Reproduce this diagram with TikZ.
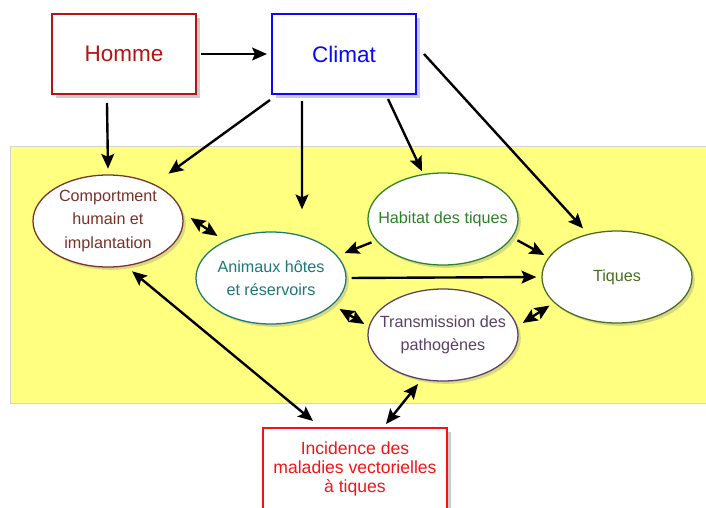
\documentclass[tikz,border=0pt]{standalone}
\usepackage{fontspec}
\setmainfont{Liberation Sans}
\usetikzlibrary{arrows.meta, shapes.geometric, shadows}

\definecolor{fond}{RGB}{255,255,128}
\definecolor{rougeH}{RGB}{180,20,20}
\definecolor{bleuC}{RGB}{10,10,245}
\definecolor{brunC}{RGB}{120,50,40}
\definecolor{sarcelle}{RGB}{30,120,120}
\definecolor{vertH}{RGB}{45,130,40}
\definecolor{vertT}{RGB}{70,110,30}
\definecolor{violetP}{RGB}{90,65,100}
\definecolor{rougeI}{RGB}{245,20,20}

\begin{document}
\begin{tikzpicture}[
    x=0.025cm, y=-0.025cm,
    >={Stealth[length=3.7mm, width=3.2mm, inset=0.7mm]},
    boite/.style={rectangle, draw, line width=1.4pt, fill=white, minimum width=3.6cm, minimum height=2cm, font=\fontsize{16}{18}\selectfont, drop shadow={shadow xshift=3pt, shadow yshift=-3pt, opacity=0.4}},
    bulle/.style={ellipse, draw, line width=0.9pt, fill=white, minimum width=3.75cm, minimum height=2.3cm, inner xsep=-0.6cm, inner ysep=0pt, align=center, font=\fontsize{11.5}{16.5}\selectfont, drop shadow={shadow xshift=2pt, shadow yshift=-2pt, opacity=0.3}},
    fleche/.style={->, line width=1.7pt},
    deuxsens/.style={<->, line width=1.7pt}
]
\useasboundingbox (0,0) rectangle (706,508);

% fond jaune
\fill[fond, draw=gray!35] (10,146) rectangle (712,403);

\node[boite, draw=rougeH, text=rougeH] (homme) at (124,54) {Homme};
\node[boite, draw=bleuC, text=bleuC] (climat) at (344,54) {Climat};

\node[bulle, draw=brunC, text=brunC] (comport) at (108,221) {Comportment\\humain et\\implantation};
\node[bulle, draw=sarcelle, text=sarcelle] (animaux) at (271,278) {Animaux hôtes\\et réservoirs};
\node[bulle, draw=vertH, text=vertH] (habitat) at (443,219) {Habitat des tiques};
\node[bulle, draw=vertT, text=vertT] (tiques) at (617,277) {Tiques};
\node[bulle, draw=violetP, text=violetP] (transm) at (443,335) {Transmission des\\pathogènes};

\node[boite, draw=rougeI, text=rougeI, minimum width=4.6cm, minimum height=2.05cm, align=center, font=\fontsize{12.5}{13.5}\selectfont] (incid) at (355,469) {Incidence des\\maladies vectorielles\\à tiques};

% fleches simples
\draw[fleche, shorten <=1mm, shorten >=1mm] (homme) -- (climat);
\draw[fleche] ([xshift=-4.25mm,yshift=-2mm]homme.south) -- ([yshift=1.4mm]comport.north);
\draw[fleche] ([xshift=-0.25mm,yshift=-1.25mm]climat.south west) -- ([xshift=1.75mm,yshift=3.6mm]comport.north east);
\draw[fleche] ([xshift=-10.5mm,yshift=-1.5mm]climat.south) -- ([xshift=7.75mm,yshift=5.5mm]animaux.north);
\draw[fleche] ([xshift=11mm,yshift=-1mm]climat.south) -- ([xshift=-5.25mm,yshift=0.25mm]habitat.north);
\draw[fleche] ([xshift=1.75mm]climat.east) -- ([xshift=-8.5mm,yshift=0.5mm]tiques.north);
\draw[fleche] ([xshift=-4.5mm,yshift=2.4mm]habitat.south west) -- ([xshift=5mm,yshift=-2mm]animaux.north east);
\draw[fleche] ([xshift=5.25mm,yshift=2.9mm]habitat.south east) -- ([xshift=0.75mm,yshift=5.5mm]tiques.west);
\draw[fleche, shorten <=1.25mm, shorten >=1.25mm] (animaux.east) -- (tiques.west);

% fleches doubles
\draw[deuxsens] ([xshift=1.75mm,yshift=0.75mm]comport.east) -- ([yshift=2.25mm]animaux.north west);
\draw[deuxsens] ([xshift=3.75mm,yshift=0.5mm]animaux.south east) -- ([xshift=-0.75mm,yshift=2.75mm]transm.west);
\draw[deuxsens] ([xshift=1mm,yshift=3mm]transm.east) -- ([xshift=-3.5mm,yshift=1.1mm]tiques.south west);
\draw[deuxsens] ([xshift=6mm,yshift=-0.9mm]comport.south) -- ([xshift=-10.5mm,yshift=1.5mm]incid.north);
\draw[deuxsens] ([xshift=-6.25mm,yshift=-0.6mm]transm.south) -- ([xshift=7.75mm,yshift=0.75mm]incid.north);

\end{tikzpicture}
\end{document}
